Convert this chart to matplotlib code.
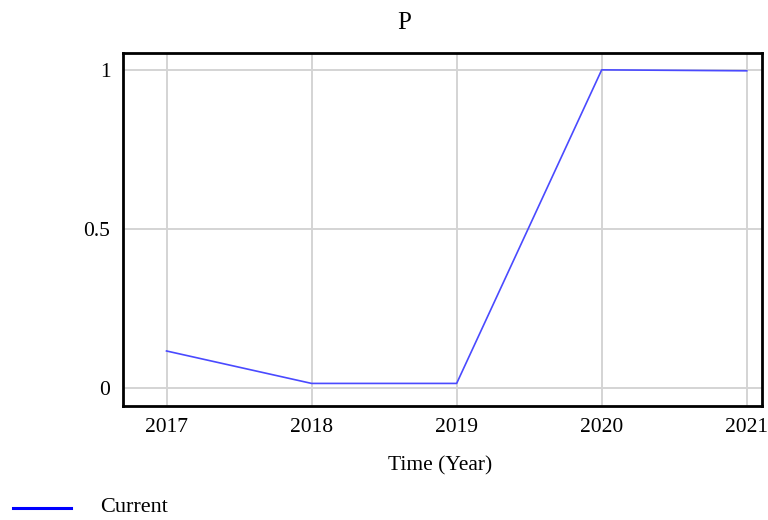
import matplotlib
matplotlib.use("Agg")
import matplotlib.pyplot as plt
from matplotlib.lines import Line2D

plt.rcParams["font.family"] = ["Liberation Serif", "DejaVu Serif"]

years = [2017, 2018, 2019, 2020, 2021]
current = [0.116, 0.014, 0.014, 1.0, 0.997]
y_ticks = [0, 0.5, 1]
y_labels = ["0", "0.5", "1"]

W, H = 768, 520
fig = plt.figure(figsize=(W / 100, H / 100), dpi=100)
ax = fig.add_axes([123 / W, 1 - 406 / H, (762 - 123) / W, (406 - 53) / H])

ax.plot(years, current, color="#4a4aff", lw=1.2, zorder=3)

ax.set_xlim(2016.70, 2021.105)
ax.set_ylim(-0.057, 1.053)
ax.set_xticks(years)
ax.set_xticklabels([str(y) for y in years])
ax.set_yticks(y_ticks)
ax.set_yticklabels(y_labels)
ax.grid(True, color="#d4d4d4", lw=1.4)
ax.set_axisbelow(True)
ax.tick_params(length=0, labelsize=15.5, pad=9)
for s in ax.spines.values():
    s.set_linewidth(2.0)
    s.set_color("black")

fig.text(404 / W, 1 - 23 / H, "P", ha="center", va="center", fontsize=18)
fig.text(440 / W, 1 - 466 / H, "Time (Year)", ha="center", va="center", fontsize=15.5)

# legend drawn under the plot
fig.add_artist(Line2D([13 / W, 71 / W], [1 - 508 / H, 1 - 508 / H], color="blue", lw=2.2))
fig.text(100 / W, 1 - 508 / H, "Current", ha="left", va="center", fontsize=16)

fig.savefig("out.png", dpi=100)
